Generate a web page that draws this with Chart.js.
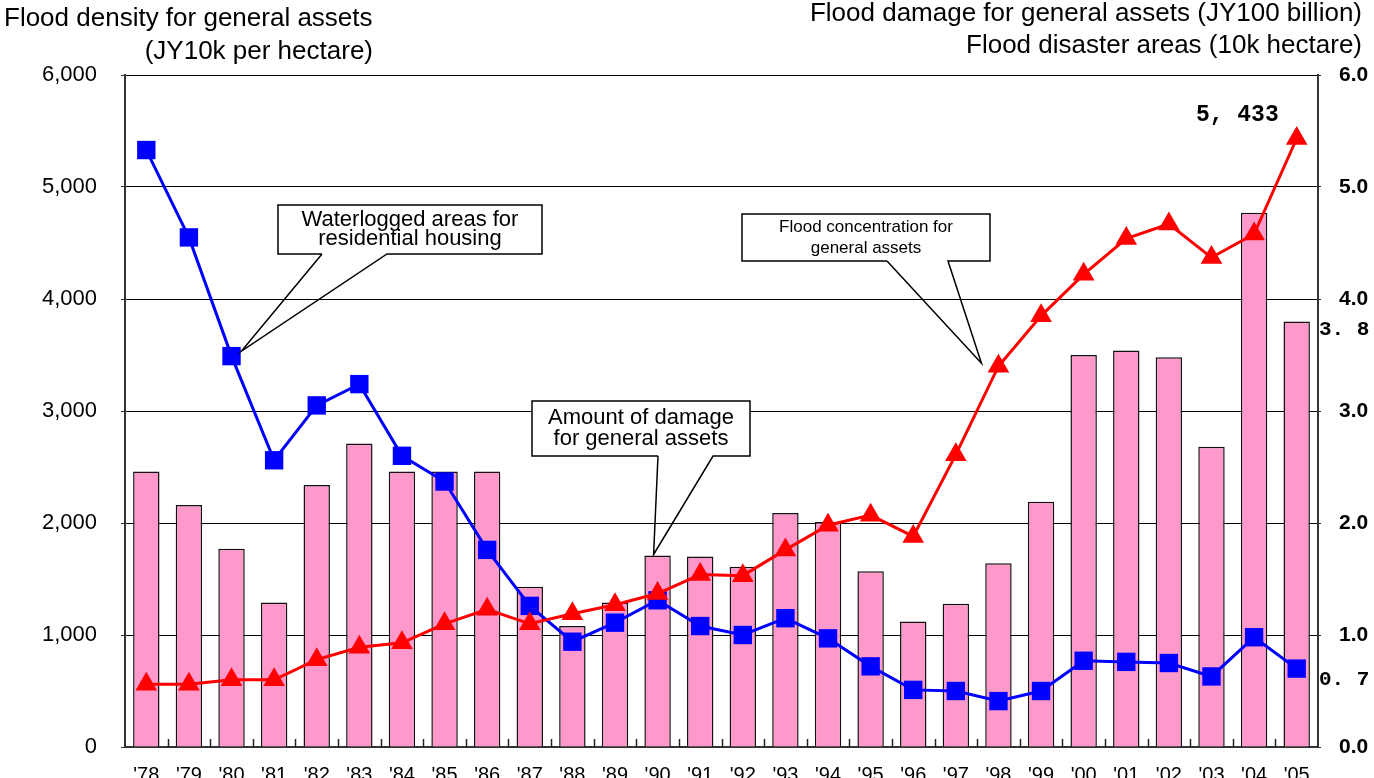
<!DOCTYPE html>
<html>
<head>
<meta charset="utf-8">
<script src="https://cdn.jsdelivr.net/npm/chart.js"></script>
<style>
  html, body { margin: 0; padding: 0; background: #fff; overflow: hidden; }
  #wrap { width: 1374px; height: 790px; position: relative; }
</style>
</head>
<body>
<div id="wrap"><canvas id="floodChart"></canvas></div>
<script>
// 年度
const years = ["'78","'79","'80","'81","'82","'83","'84","'85","'86","'87","'88","'89","'90","'91",
               "'92","'93","'94","'95","'96","'97","'98","'99","'00","'01","'02","'03","'04","'05"];

// 一般資産被害額 (千億円) - 棒
const damageAmount = [2.46, 2.16, 1.77, 1.29, 2.34, 2.71, 2.46, 2.46, 2.46, 1.43, 1.08, 1.29, 1.71, 1.70,
                      1.61, 2.09, 2.01, 1.57, 1.12, 1.28, 1.64, 2.19, 3.50, 3.54, 3.48, 2.68, 4.77, 3.8];

// 宅地等浸水面積 (万ha) - 青
const waterloggedArea = [5.33, 4.55, 3.49, 2.56, 3.05, 3.24, 2.60, 2.37, 1.76, 1.26, 0.94, 1.11, 1.31, 1.08,
                         1.00, 1.15, 0.97, 0.72, 0.51, 0.50, 0.41, 0.50, 0.77, 0.76, 0.75, 0.63, 0.98, 0.7];

// 一般資産水害密度 (万円/ha) - 赤
const floodDensity = [560, 560, 600, 600, 780, 890, 930, 1100, 1230, 1100, 1190, 1270, 1370, 1540,
                      1530, 1760, 1980, 2070, 1880, 2610, 3400, 3850, 4220, 4540, 4670, 4370, 4580, 5433];

const leftTicks = [0, 1000, 2000, 3000, 4000, 5000, 6000];
const rightTicks = [0, 1, 2, 3, 4, 5, 6];

const FONT = 'Liberation Sans, Arial, sans-serif';
const MONO = 'Liberation Mono, DejaVu Sans Mono, monospace';

// 軸タイトル
const axisTitles = {
  id: 'axisTitles',
  afterDraw(chart) {
    const ctx = chart.ctx;
    ctx.save();
    ctx.fillStyle = '#000';
    ctx.textBaseline = 'middle';
    ctx.font = '26px ' + FONT;
    ctx.textAlign = 'left';
    ctx.fillText('Flood density for general assets', 4, 19);
    ctx.textAlign = 'right';
    ctx.fillText('(JY10k per hectare)', 373, 52);
    ctx.fillText('Flood damage for general assets (JY100 billion)', 1362, 14);
    ctx.fillText('Flood disaster areas (10k hectare)', 1362, 46);
    ctx.restore();
  }
};

// X軸の内向き目盛り
const innerTicks = {
  id: 'innerTicks',
  afterDatasetsDraw(chart) {
    const ctx = chart.ctx;
    const x = chart.scales.x;
    const bottom = chart.chartArea.bottom;
    const step = x.getPixelForValue(1) - x.getPixelForValue(0);
    ctx.save();
    ctx.strokeStyle = '#222';
    ctx.lineWidth = 1.5;
    for (let i = 0; i < years.length - 1; i++) {
      const px = Math.round(x.getPixelForValue(i) + step / 2) + 0.5;
      ctx.beginPath();
      ctx.moveTo(px, bottom);
      ctx.lineTo(px, bottom - 8);
      ctx.stroke();
    }
    ctx.restore();
  }
};

// 吹き出し
const callouts = [
  { lines: ['Waterlogged areas for', 'residential housing'], font: 22, lh: 19, box: [278, 205, 264, 49],
    base: [322, 387], ds: 2, idx: 2, dx: 10, dy: -5 },
  { lines: ['Amount of damage', 'for general assets'], font: 22, lh: 21, box: [532, 401, 218, 55],
    base: [658, 713], ds: 0, idx: 12, dx: -4, dy: -1 },
  { lines: ['Flood concentration for', 'general assets'], font: 17, lh: 21, box: [742, 214, 248, 47],
    base: [887, 948], ds: 1, idx: 20, dx: -17, dy: -3 }
];

const calloutPlugin = {
  id: 'calloutPlugin',
  afterDatasetsDraw(chart) {
    const ctx = chart.ctx;
    ctx.save();
    callouts.forEach(c => {
      const el = chart.getDatasetMeta(c.ds).data[c.idx];
      const tipX = el.x + c.dx;
      const tipY = el.y + c.dy;
      const [bx, by, bw, bh] = c.box;
      ctx.fillStyle = '#fff';
      ctx.fillRect(bx, by, bw, bh);
      ctx.strokeStyle = '#000';
      ctx.lineWidth = 1.5;
      ctx.beginPath();
      ctx.moveTo(c.base[0], by + bh);
      ctx.lineTo(bx, by + bh);
      ctx.lineTo(bx, by);
      ctx.lineTo(bx + bw, by);
      ctx.lineTo(bx + bw, by + bh);
      ctx.lineTo(c.base[1], by + bh);
      ctx.lineTo(tipX, tipY);
      ctx.lineTo(c.base[0], by + bh);
      ctx.stroke();
      ctx.fillStyle = '#000';
      ctx.font = c.font + 'px ' + FONT;
      ctx.textAlign = 'center';
      ctx.textBaseline = 'middle';
      const cy = by + bh / 2 - c.lh / 2;
      c.lines.forEach((t, i) => ctx.fillText(t, bx + bw / 2, cy + i * c.lh));
    });
    ctx.restore();
  }
};

// 最終年の数値ラベル
const valueLabels = {
  id: 'valueLabels',
  afterDatasetsDraw(chart) {
    const ctx = chart.ctx;
    const last = years.length - 1;
    const bar = chart.getDatasetMeta(0).data[last];
    const red = chart.getDatasetMeta(1).data[last];
    const blue = chart.getDatasetMeta(2).data[last];
    ctx.save();
    ctx.fillStyle = '#000';
    ctx.textBaseline = 'middle';
    ctx.font = 'bold 23px ' + MONO;
    ctx.textAlign = 'right';
    ctx.fillText(floodDensity[last].toLocaleString('en-US').replace(',', ', '), red.x - 18, red.y - 23);
    ctx.font = 'bold 21px ' + MONO;
    ctx.textAlign = 'left';
    ctx.fillText(damageAmount[last].toFixed(1).replace('.', '. '), chart.chartArea.right + 1, bar.y + 8);
    ctx.fillText(waterloggedArea[last].toFixed(1).replace('.', '. '), chart.chartArea.right + 1, blue.y + 11);
    ctx.restore();
  }
};

new Chart(document.getElementById('floodChart'), {
  data: {
    labels: years,
    datasets: [
      {
        type: 'bar',
        label: 'Amount of damage for general assets',
        data: damageAmount,
        yAxisID: 'yRight',
        backgroundColor: '#ff99cc',
        borderColor: '#111',
        borderWidth: 1.5,
        barPercentage: 0.62,
        categoryPercentage: 1.0,
        order: 3
      },
      {
        type: 'line',
        label: 'Flood concentration for general assets',
        data: floodDensity,
        yAxisID: 'yLeft',
        borderColor: '#ff0000',
        backgroundColor: '#ff0000',
        borderWidth: 3,
        pointStyle: 'triangle',
        pointRadius: 12.5,
        pointBorderWidth: 0,
        tension: 0,
        order: 1
      },
      {
        type: 'line',
        label: 'Waterlogged areas for residential housing',
        data: waterloggedArea,
        yAxisID: 'yRight',
        borderColor: '#0000ff',
        backgroundColor: '#0000ff',
        borderWidth: 3,
        pointStyle: 'rect',
        pointRadius: 13,
        pointBorderWidth: 0,
        tension: 0,
        order: 2
      }
    ]
  },
  options: {
    responsive: true,
    maintainAspectRatio: false,
    animation: false,
    layout: { padding: { top: 75, left: 0, right: 0, bottom: 0 } },
    plugins: {
      legend: { display: false },
      title: { display: false },
      tooltip: { enabled: false }
    },
    scales: {
      x: {
        offset: true,
        grid: { display: false },
        border: { display: true, color: '#333', width: 2 },
        ticks: { color: '#000', font: { family: FONT, size: 20 }, padding: 8, maxRotation: 0, autoSkip: false },
        afterFit(scale) { scale.height = 43; }
      },
      yLeft: {
        position: 'left',
        min: 0,
        max: 6000,
        afterBuildTicks(scale) { scale.ticks = leftTicks.map(v => ({ value: v })); },
        grid: { color: '#000', lineWidth: 1, tickLength: 4, tickColor: '#333' },
        border: { display: true, color: '#333', width: 2 },
        ticks: {
          color: '#000',
          font: { family: FONT, size: 22 },
          padding: 24,
          callback: v => v.toLocaleString('en-US')
        },
        afterFit(scale) { scale.width = 125; }
      },
      yRight: {
        position: 'right',
        min: 0,
        max: 6,
        afterBuildTicks(scale) { scale.ticks = rightTicks.map(v => ({ value: v })); },
        grid: { drawOnChartArea: false, tickLength: 3, color: '#333' },
        border: { display: true, color: '#333', width: 2 },
        ticks: {
          color: '#000',
          font: { family: FONT, size: 21, weight: 'bold' },
          padding: 18,
          callback: v => Number(v).toFixed(1)
        },
        afterFit(scale) { scale.width = 56; }
      }
    }
  },
  plugins: [innerTicks, calloutPlugin, valueLabels, axisTitles]
});
</script>
</body>
</html>
